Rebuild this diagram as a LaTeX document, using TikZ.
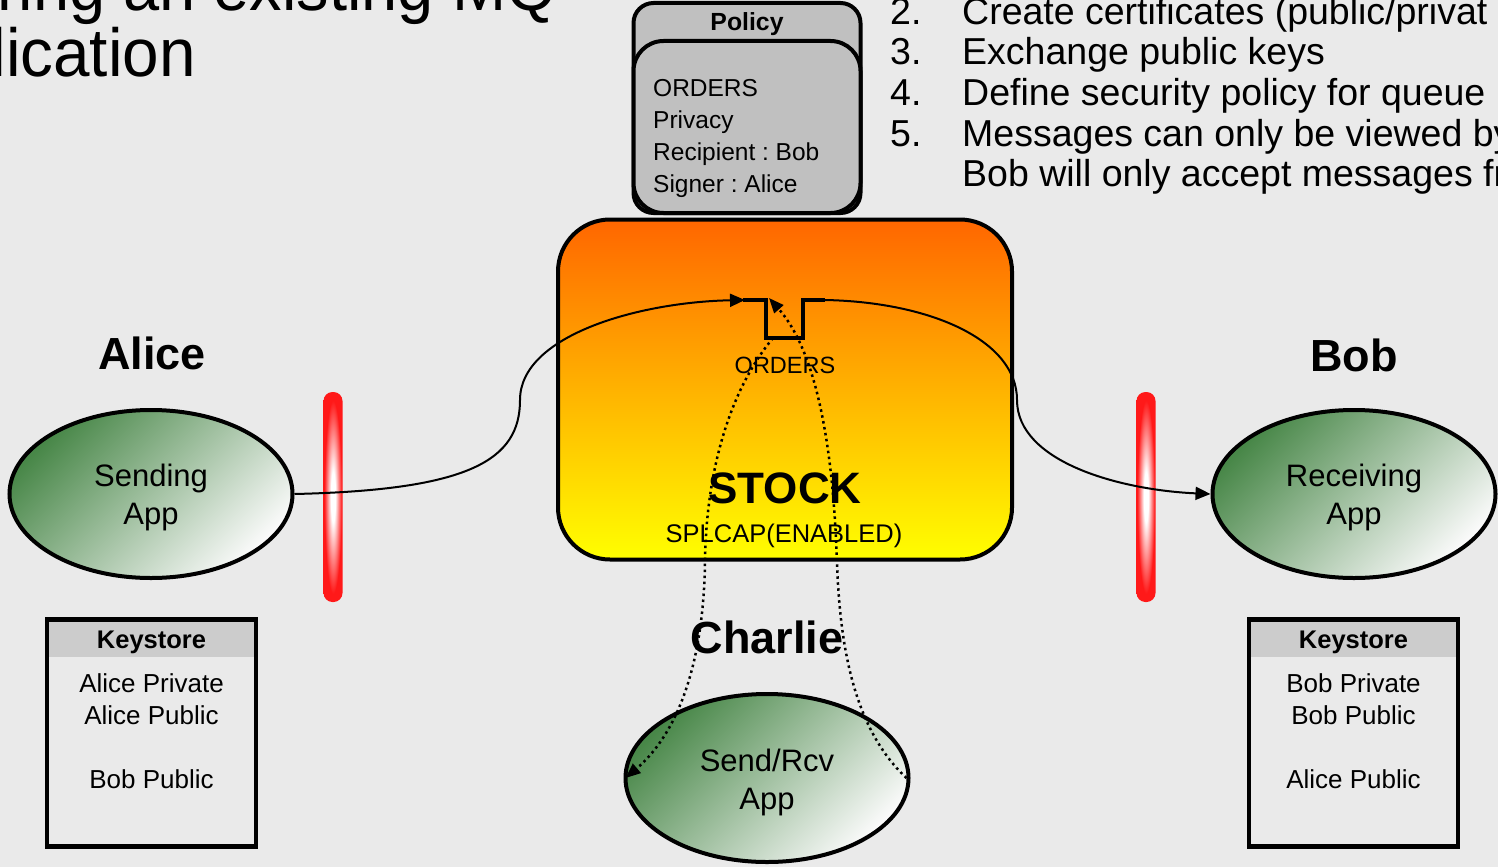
\documentclass[tikz,border=0pt]{standalone}
\usepackage{fontspec}
\setmainfont{Liberation Sans}
\usetikzlibrary{arrows.meta,shapes.geometric}
\definecolor{bg}{RGB}{234,234,234}
\definecolor{polgray}{RGB}{192,192,192}
\definecolor{hdrgray}{RGB}{204,204,204}
\definecolor{stocktop}{RGB}{255,102,0}
\definecolor{stockbot}{RGB}{255,255,0}
\definecolor{appgreen}{RGB}{72,135,72}
\definecolor{appwhite}{RGB}{250,250,250}
\definecolor{barred}{RGB}{255,25,25}
\pgfdeclareradialshading{barshade}{\pgfpoint{0bp}{0bp}}{color(0bp)=(white); color(6bp)=(white); color(23bp)=(barred); color(50bp)=(barred)}
\newcommand{\fsz}[2]{\fontsize{#1}{#2}\selectfont}
\frenchspacing
\begin{document}
\begin{tikzpicture}[x=1pt,y=-1pt,
  app/.style={ellipse, draw, line width=4pt, minimum width=283, minimum height=168,
    top color=appgreen, bottom color=appwhite, shading angle=45, inner sep=0pt},
  apptxt/.style={align=center, font=\fsz{31}{38}, inner sep=0pt},
  who/.style={font=\fsz{45}{50}\bfseries, anchor=base},
  listnum/.style={font=\fsz{37.5}{40}, anchor=base west},
  poltxt/.style={font=\fsz{24.5}{32}, anchor=base west},
  keytxt/.style={font=\fsz{26}{32}, anchor=base},
  keyhdr/.style={font=\fsz{25.5}{30}\bfseries, anchor=base},
  keybox/.style={draw, line width=4.5pt, minimum width=209, minimum height=227, inner sep=0pt},
  redbar/.style={rounded corners=9pt, shading=barshade, minimum width=19, minimum height=210, inner sep=0pt},
  conn/.style={line width=2pt, -{Triangle[length=15pt,width=13pt]}},
  dotconn/.style={line width=2.5pt, dash pattern=on 2.5pt off 3.5pt, -{Triangle[length=15pt,width=12pt]}}
]
\useasboundingbox (0,0) rectangle (1498,867);
\clip (0,0) rectangle (1498,867);
\fill[bg] (0,0) rectangle (1498,867);

% title (cut by the page edge)
\node[font=\fsz{68}{70}, anchor=base east, inner sep=0pt, xscale=0.955] (t1) at (557,11) {uring an existing MQ};
\node[font=\fsz{68}{70}, anchor=base east, inner sep=0pt, xscale=0.965] (t2) at (196,76) {lication};

% numbered list
\node[listnum, inner sep=0pt] (n2) at (890,25) {2.};
\node[listnum, inner sep=0pt] (l2) at (962,25) {Create certificates (public/privat};
\node[listnum, inner sep=0pt] (n3) at (890,65) {3.};
\node[listnum, inner sep=0pt] (l3) at (962,65) {Exchange public keys};
\node[listnum, inner sep=0pt] (n4) at (890,105) {4.};
\node[listnum, inner sep=0pt] (l4) at (962,105) {Define security policy for queue};
\node[listnum, inner sep=0pt] (n5) at (890,146) {5.};
\node[listnum, inner sep=0pt] (l5) at (962,146) {Messages can only be viewed by};
\node[listnum, inner sep=0pt] (l6) at (962,186) {Bob will only accept messages fr};

% policy
\node[draw, line width=4pt, fill=polgray, rounded corners=20pt, minimum width=227, minimum height=210, inner sep=0pt] (polout) at (747,108) {};
\node[font=\fsz{24.8}{28}\bfseries, anchor=base, inner sep=0pt] (polhdr) at (747,31) {Policy};
\node[draw, line width=4pt, fill=polgray, rounded corners=30pt, minimum width=227, minimum height=172, inner sep=0pt] (polin) at (747,127) {};
\node[poltxt, inner sep=0pt] (p1) at (653,96) {ORDERS};
\node[poltxt, inner sep=0pt] (p2) at (653,128) {Privacy};
\node[poltxt, inner sep=0pt] (p3) at (653,160) {Recipient : Bob};
\node[poltxt, inner sep=0pt] (p4) at (653,192) {Signer : Alice};

% queue manager STOCK
\node[draw, line width=4pt, rounded corners=52pt, top color=stocktop, bottom color=stockbot, minimum width=454, minimum height=340, inner sep=0pt] (stock) at (785,389.5) {};
\coordinate (qL) at (745,300);
\coordinate (qR) at (825,300);
\coordinate (qB) at (773,338);
\coordinate (qT) at (769,298);
\draw[line width=4pt, line join=miter] (743,300) -- (766,300) -- (766,338) -- (803,338) -- (803,300) -- (qR);
\node[font=\fsz{23.5}{26}, anchor=base, inner sep=0pt] (qname) at (785,373) {ORDERS};
\node[font=\fsz{44}{48}\bfseries, anchor=base, inner sep=0pt] (stockname) at (785,503) {STOCK};
\node[font=\fsz{25.5}{28}, anchor=base, inner sep=0pt] (splcap) at (784,542) {SPLCAP(ENABLED)};

% people
\node[who, inner sep=0pt] (alice) at (152,369) {Alice};
\node[who, inner sep=0pt] (bob) at (1354,371) {Bob};
\node[who, inner sep=0pt] (charlie) at (767,653) {Charlie};

% red barriers
\node[redbar] (bar1) at (333,497) {};
\node[redbar] (bar2) at (1146,497) {};

% apps
\node[app] (send) at (151,494) {};
\node[apptxt] (sendt) at ([yshift=-3pt]send.center) {Sending\\App};
\node[app] (rcv) at (1354,494) {};
\node[apptxt] (rcvt) at ([yshift=-3pt]rcv.center) {Receiving\\App};
\node[app] (sr) at (767,778) {};
\node[apptxt] (srt) at ([yshift=-4pt]sr.center) {Send/Rcv\\App};

% keystores
\fill[hdrgray] (47,620) rectangle (256,657);
\node[keybox] (ksA) at (151.5,733) {};
\node[keyhdr, inner sep=0pt] (ksAh) at (151.5,648) {Keystore};
\node[keytxt, inner sep=0pt] (ksA1) at (151.5,692) {Alice Private};
\node[keytxt, inner sep=0pt] (ksA2) at (151.5,724) {Alice Public};
\node[keytxt, inner sep=0pt] (ksA3) at (151.5,788) {Bob Public};

\fill[hdrgray] (1249,620) rectangle (1458,657);
\node[keybox] (ksB) at (1353.5,733) {};
\node[keyhdr, inner sep=0pt] (ksBh) at (1353.5,648) {Keystore};
\node[keytxt, inner sep=0pt] (ksB1) at (1353.5,692) {Bob Private};
\node[keytxt, inner sep=0pt] (ksB2) at (1353.5,724) {Bob Public};
\node[keytxt, inner sep=0pt] (ksB3) at (1353.5,788) {Alice Public};

% connectors
\draw[conn] (send.east) .. controls (470,490) and (520,460) .. (520,400)
   .. controls (520,335) and (640,302) .. (qL);
\draw[conn] (qR) .. controls (930,302) and (1017,340) .. (1017,400)
   .. controls (1017,462) and (1120,490) .. (rcv.west);
\draw[dotconn] ([xshift=-4pt]sr.east) .. controls (855,730) and (840,650) .. (837,563)
   .. controls (833,440) and (815,350) .. (qT);
\draw[dotconn] (qB) .. controls (730,390) and (706,470) .. (705,563)
   .. controls (703,680) and (670,740) .. ([xshift=2pt]sr.west);
\end{tikzpicture}
\end{document}
